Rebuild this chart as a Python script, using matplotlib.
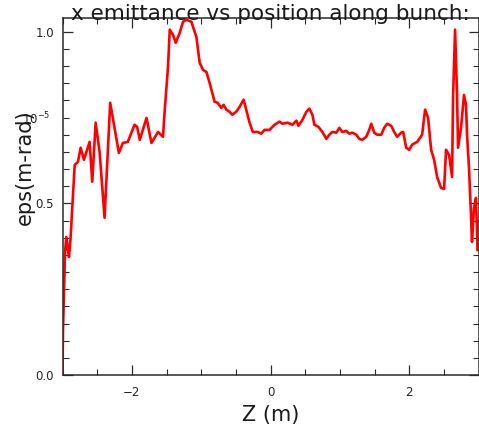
import matplotlib
matplotlib.use("Agg")
import matplotlib.pyplot as plt
from matplotlib.ticker import MultipleLocator, FixedLocator

# Position along the bunch (m)
z = [-3.000, -2.993, -2.978, -2.964, -2.945, -2.921, -2.906, -2.885, -2.853, -2.824,
     -2.777, -2.738, -2.691, -2.609, -2.571, -2.522, -2.465, -2.393, -2.312, -2.187,
     -2.129, -2.058, -1.961, -1.924, -1.885, -1.788, -1.717, -1.622, -1.550, -1.525,
     -1.478, -1.453, -1.406, -1.367, -1.309, -1.262, -1.213, -1.141, -1.069, -1.022,
     -0.974, -0.925, -0.878, -0.806, -0.763, -0.709, -0.676, -0.637, -0.590, -0.551,
     -0.494, -0.446, -0.388, -0.350, -0.302, -0.255, -0.183, -0.134, -0.086, -0.014,
     0.058, 0.129, 0.173, 0.245, 0.317, 0.374, 0.403, 0.460, 0.518, 0.561,
     0.604, 0.633, 0.691, 0.748, 0.806, 0.849, 0.892, 0.950, 0.993, 1.036,
     1.094, 1.137, 1.180, 1.237, 1.281, 1.324, 1.381, 1.424, 1.453, 1.496,
     1.540, 1.597, 1.640, 1.683, 1.741, 1.784, 1.827, 1.885, 1.914, 1.957,
     2.000, 2.043, 2.115, 2.158, 2.187, 2.230, 2.273, 2.317, 2.360, 2.403,
     2.460, 2.504, 2.532, 2.576, 2.619, 2.633, 2.662, 2.676, 2.691, 2.705,
     2.748, 2.791, 2.820, 2.835, 2.863, 2.892, 2.906, 2.935, 2.964, 2.986]

# x emittance in units of 1e-5 m-rad
eps = [0.000, 0.131, 0.239, 0.356, 0.402, 0.364, 0.344, 0.394, 0.510, 0.612,
       0.621, 0.662, 0.627, 0.679, 0.563, 0.735, 0.650, 0.458, 0.793, 0.647,
       0.676, 0.679, 0.729, 0.723, 0.685, 0.749, 0.676, 0.708, 0.694, 0.773,
       0.898, 1.006, 0.991, 0.968, 0.997, 1.029, 1.035, 1.029, 0.985, 0.910,
       0.889, 0.883, 0.851, 0.796, 0.793, 0.778, 0.787, 0.773, 0.767, 0.758,
       0.767, 0.781, 0.802, 0.773, 0.735, 0.708, 0.708, 0.703, 0.714, 0.714,
       0.729, 0.738, 0.732, 0.735, 0.729, 0.741, 0.726, 0.743, 0.767, 0.776,
       0.758, 0.729, 0.723, 0.708, 0.688, 0.700, 0.708, 0.706, 0.720, 0.708,
       0.711, 0.703, 0.706, 0.700, 0.688, 0.685, 0.694, 0.714, 0.732, 0.706,
       0.700, 0.700, 0.720, 0.732, 0.726, 0.708, 0.694, 0.706, 0.708, 0.662,
       0.656, 0.671, 0.679, 0.691, 0.700, 0.773, 0.749, 0.656, 0.627, 0.577,
       0.545, 0.542, 0.656, 0.641, 0.577, 0.808, 1.006, 0.918, 0.816, 0.662,
       0.720, 0.816, 0.787, 0.700, 0.603, 0.466, 0.388, 0.487, 0.516, 0.364]

x_major = [-2, 0, 2]
x_labels = ["\u22122", "0", "2"]
y_major = [0.0, 0.5, 1.0]
y_labels = ["0.0", "0.5", "1.0"]

plt.rcParams["font.family"] = ["DejaVu Sans"]

fig = plt.figure(figsize=(4.79, 4.32), dpi=100)
ax = fig.add_axes([62.5 / 479, 57 / 432, 416 / 479, 357 / 432])

ax.plot(z, eps, color="#ff0000", lw=1.9, solid_joinstyle="round")

ax.set_xlim(-3, 3)
ax.set_ylim(0, 1.04)

ax.xaxis.set_major_locator(FixedLocator(x_major))
ax.set_xticklabels(x_labels)
ax.xaxis.set_minor_locator(MultipleLocator(0.5))
ax.yaxis.set_major_locator(FixedLocator(y_major))
ax.set_yticklabels(y_labels)
ax.yaxis.set_minor_locator(MultipleLocator(0.05))

axis_col = "#2a2a2a"
for sp in ax.spines.values():
    sp.set_color(axis_col)
    sp.set_linewidth(1.1)

ax.tick_params(which="both", direction="in", top=True, right=True,
               color=axis_col, labelsize=8.5, labelcolor="#222222")
ax.tick_params(which="major", length=7, width=0.9)
ax.tick_params(which="minor", length=4, width=0.8)
ax.tick_params(axis="x", which="major", pad=8)
ax.tick_params(axis="y", which="major", pad=6)

fig.text(270.5 / 479, (432 - 20) / 432, "x emittance vs position along bunch:",
         ha="center", va="baseline", fontsize=15.5, color="#1a1a1a")
fig.text(271 / 479, (432 - 421) / 432, "Z (m)", ha="center", va="baseline",
         fontsize=15, color="#1a1a1a")
fig.text(25 / 479, 1 - 167 / 432, "eps(m-rad)", rotation=90, ha="center",
         va="center", fontsize=15, color="#1a1a1a")
fig.text(50 / 479, (432 - 124) / 432, "10$^{-5}$", ha="right", va="baseline",
         fontsize=8.5, color="#222222")

fig.savefig("out.png", dpi=100)
